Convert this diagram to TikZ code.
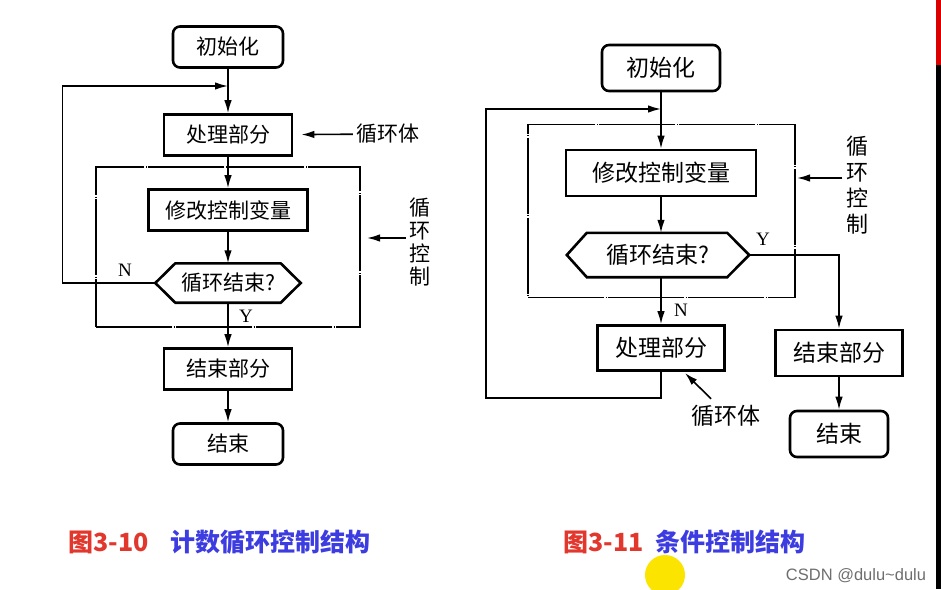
\documentclass[tikz,border=0pt]{standalone}
\usepackage{fontspec}
\setmainfont{Liberation Serif}
\newfontfamily\cjk{Noto Sans CJK SC}
\newfontfamily\wmfont{Liberation Sans}
\usetikzlibrary{arrows.meta}
\definecolor{capred}{RGB}{225,55,45}
\definecolor{capblue}{RGB}{60,60,225}
\definecolor{hilite}{RGB}{250,228,0}
\definecolor{markgray}{RGB}{110,110,110}

\begin{document}
\begin{tikzpicture}[x=1pt,y=-1pt,
  >={Latex[length=13pt,width=7.5pt]},
  conn/.style={line width=1.6pt},
  box/.style={draw,line width=2.6pt,inner sep=0pt},
  roundbox/.style={box,rounded corners=7pt},
  hexbox/.style={inner sep=0pt},
  hexline/.style={line width=2.6pt,line join=miter},
  ctrlbox/.style={draw,line width=1.6pt,
    dash pattern=on 76pt off 1.5pt on 1pt off 1.5pt},
  lsize/.style={font=\cjk\fontsize{21}{24}\selectfont},
  rsize/.style={font=\cjk\fontsize{23}{26}\selectfont},
  yn/.style={font=\fontsize{19}{21}\selectfont},
  captext/.style={anchor=west,font=\cjk\bfseries\fontsize{25}{27}\selectfont,inner sep=0pt}]
\useasboundingbox (0,0) rectangle (941,589);

% left: counting loop
\node[roundbox,lsize,minimum width=110,minimum height=41] (l0) at (228,47) {初始化};
\node[box,lsize,minimum width=128,minimum height=41] (l1) at (228,135) {处理部分};
\node[ctrlbox,minimum width=264,minimum height=160] (lctrl) at (228,247) {};
\node[box,lsize,minimum width=159,minimum height=41] (l2) at (228,210) {修改控制变量};
\node[hexbox,lsize,minimum width=145,minimum height=39] (l3) at (228,283) {循环结束?};
\node[box,lsize,minimum width=128,minimum height=41] (l4) at (228,369) {结束部分};
\node[roundbox,lsize,minimum width=110,minimum height=41] (l5) at (228,444) {结束};
\draw[hexline] (l3.west) -- ([xshift=20pt]l3.north west) -- ([xshift=-20pt]l3.north east)
  -- (l3.east) -- ([xshift=-20pt]l3.south east) -- ([xshift=20pt]l3.south west) -- cycle;
\node[yn] (ln) at (125,270) {N};
\node[yn] (ly) at (246,316) {Y};
\node[lsize] (lbody) at (388,134) {循环体};
\node[lsize,align=center,font=\cjk\fontsize{21}{23}\selectfont] (lctltxt) at (420,242) {循\\环\\控\\制};
\coordinate (ljoin) at (228,86);
\coordinate (lctlpt) at (367,238);

\path [->,conn] (l0) edge (l1)
                (l1) edge (l2)
                (l2) edge (l3)
                (l3) edge (l4)
                (l4) edge (l5)
                (lbody) edge[shorten >=8pt] (l1)
                (lctltxt.west |- lctlpt) edge (lctlpt);
\draw[->,conn] (l3.west) -- ++(-93,0) |- (ljoin);

% right: conditional loop
\node[roundbox,rsize,minimum width=118,minimum height=46] (r0) at (661,68) {初始化};
\node[ctrlbox,minimum width=267,minimum height=173] (rctrl) at (661.5,211) {};
\node[box,rsize,minimum width=190,minimum height=46] (r1) at (661,173) {修改控制变量};
\node[hexbox,rsize,minimum width=182,minimum height=44] (r2) at (658,255) {循环结束?};
\node[box,rsize,minimum width=127,minimum height=45] (r3) at (661,348) {处理部分};
\node[box,rsize,minimum width=127,minimum height=46] (r4) at (839,353) {结束部分};
\node[roundbox,rsize,minimum width=98,minimum height=46] (r5) at (839,434) {结束};
\draw[hexline] (r2.west) -- ([xshift=20pt]r2.north west) -- ([xshift=-22pt]r2.north east)
  -- (r2.east) -- ([xshift=-22pt]r2.south east) -- ([xshift=20pt]r2.south west) -- cycle;
\node[yn] (rn) at (681,310) {N};
\node[yn] (ry) at (763,239) {Y};
\node[rsize] (rbody) at (726,416) {循环体};
\node[align=center,font=\cjk\fontsize{22}{26}\selectfont] (rctltxt) at (857,185) {循\\环\\控\\制};
\coordinate (rjoin) at (661,109);
\coordinate (rctlpt) at (797,178);
\coordinate (rbodypt) at (685,373);

\path [->,conn] (r0) edge (r1)
                (r1) edge (r2.north -| r1)
                (r2.south -| r3) edge (r3)
                (r4) edge (r5)
                (rctltxt.west |- rctlpt) edge (rctlpt)
                ([xshift=-15pt,yshift=3pt]rbody.north) edge (rbodypt);
\draw[->,conn] (r2.east) -| (r4);
\draw[->,conn] (r3.south) -- ++(0,26) -- ++(-175,0) |- (rjoin);

% captions and screen marks
\node[captext] (cap1) at (68,542) {\textcolor{capred}{图3-10}\hspace{22pt}\textcolor{capblue}{计数循环控制结构}};
\node[captext] (cap2) at (563,542) {\textcolor{capred}{图3-11}\hspace{12pt}\textcolor{capblue}{条件控制结构}};
\fill[hilite] (665,575) circle[radius=20pt];
\node[font=\wmfont\fontsize{16.5}{18}\selectfont,text=markgray] (mark) at (856,576) {CSDN @dulu\textasciitilde dulu};
\fill[black] (936,0) rectangle (941,589);
\fill[red!80!black!70!red] (936,0) rectangle (941,65);
\end{tikzpicture}
\end{document}
